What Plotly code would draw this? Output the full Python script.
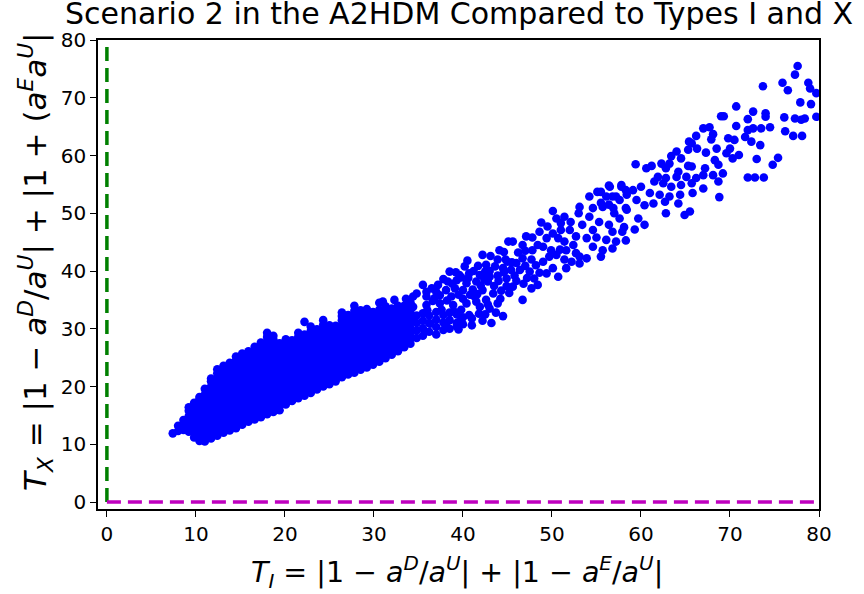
import plotly.graph_objects as go

# Dense core of the scatter: one x per column, the y values observed in that column
core_cols = [7.4, 8.0, 8.6, 9.2, 9.8, 10.4, 11.0, 11.7, 12.4, 13.1, 13.8, 14.5, 15.2,
             15.9, 16.6, 17.3, 18.0, 18.7, 19.4, 20.1, 20.8, 21.5, 22.2, 22.9, 23.6,
             24.3, 25.0, 25.7, 26.4, 27.1, 27.8, 28.5, 29.2, 29.9, 30.6, 31.3, 32.0,
             32.7, 33.4, 34.1]
core_vals = [
    [11.9],
    [12.3, 13.2],
    [12.5, 13.4, 14.2],
    [12.2, 13.1, 14.0, 14.9, 15.8, 16.4],
    [11.2, 12.1, 13.0, 13.9, 14.8, 15.7, 16.6, 17.2],
    [10.6, 11.5, 12.4, 13.3, 14.2, 15.1, 16.0, 16.9, 17.8, 18.2],
    [10.5, 11.4, 12.3, 13.2, 14.1, 15.0, 15.9, 16.8, 17.7, 18.6, 19.6],
    [11.0, 11.9, 12.8, 13.7, 14.6, 15.5, 16.4, 17.3, 18.2, 19.1, 20.0, 20.9, 21.4],
    [11.5, 12.4, 13.3, 14.2, 15.1, 16.0, 16.9, 17.8, 18.7, 19.6, 20.5, 21.4, 22.3, 23.0],
    [12.0, 12.9, 13.8, 14.7, 15.6, 16.5, 17.4, 18.3, 19.2, 20.1, 21.0, 21.9, 22.8, 23.6],
    [12.4, 13.3, 14.2, 15.1, 16.0, 16.9, 17.8, 18.7, 19.6, 20.5, 21.4, 22.3, 23.2, 24.1],
    [12.8, 13.7, 14.6, 15.5, 16.4, 17.3, 18.2, 19.1, 20.0, 20.9, 21.8, 22.7, 23.6, 24.5, 25.2],
    [13.4, 14.3, 15.2, 16.1, 17.0, 17.9, 18.8, 19.7, 20.6, 21.5, 22.4, 23.3, 24.2, 25.1, 25.7],
    [13.9, 14.8, 15.7, 16.6, 17.5, 18.4, 19.3, 20.2, 21.1, 22.0, 22.9, 23.8, 24.7, 25.6, 26.1],
    [14.3, 15.2, 16.1, 17.0, 17.9, 18.8, 19.7, 20.6, 21.5, 22.4, 23.3, 24.2, 25.1, 26.0, 26.9],
    [14.7, 15.6, 16.5, 17.4, 18.3, 19.2, 20.1, 21.0, 21.9, 22.8, 23.7, 24.6, 25.5, 26.4, 27.6],
    [15.2, 16.1, 17.0, 17.9, 18.8, 19.7, 20.6, 21.5, 22.4, 23.3, 24.2, 25.1, 26.0, 26.9, 27.8, 28.6, 29.3],
    [15.6, 16.5, 17.4, 18.3, 19.2, 20.1, 21.0, 21.9, 22.8, 23.7, 24.6, 25.5, 26.4, 27.3, 28.2, 28.8],
    [15.9, 16.8, 17.7, 18.6, 19.5, 20.4, 21.3, 22.2, 23.1, 24.0, 24.9, 25.8, 26.7, 27.5],
    [16.9, 17.8, 18.7, 19.6, 20.5, 21.4, 22.3, 23.2, 24.1, 25.0, 25.9, 26.8, 27.6, 28.2],
    [17.5, 18.4, 19.3, 20.2, 21.1, 22.0, 22.9, 23.8, 24.7, 25.6, 26.5, 27.4, 28.0],
    [18.0, 18.9, 19.8, 20.7, 21.6, 22.5, 23.4, 24.3, 25.2, 26.1, 27.0, 27.9, 28.6, 29.3],
    [18.4, 19.3, 20.2, 21.1, 22.0, 22.9, 23.8, 24.7, 25.6, 26.5, 27.4, 28.3, 29.0, 31.2],
    [18.9, 19.8, 20.7, 21.6, 22.5, 23.4, 24.3, 25.2, 26.1, 27.0, 27.9, 28.8, 29.6, 30.4],
    [19.5, 20.4, 21.3, 22.2, 23.1, 24.0, 24.9, 25.8, 26.7, 27.6, 28.5, 29.4, 29.9],
    [20.0, 20.9, 21.8, 22.7, 23.6, 24.5, 25.4, 26.3, 27.2, 28.1, 29.0, 29.9, 30.7, 31.5],
    [20.4, 21.3, 22.2, 23.1, 24.0, 24.9, 25.8, 26.7, 27.6, 28.5, 29.4, 30.2, 30.6],
    [20.9, 21.8, 22.7, 23.6, 24.5, 25.4, 26.3, 27.2, 28.1, 29.0, 29.9, 30.5],
    [21.6, 22.5, 23.4, 24.3, 25.2, 26.1, 27.0, 27.9, 28.8, 29.7, 30.6, 31.5, 32.2, 32.8],
    [22.1, 23.0, 23.9, 24.8, 25.7, 26.6, 27.5, 28.4, 29.3, 30.2, 31.1, 31.9, 32.4],
    [22.4, 23.3, 24.2, 25.1, 26.0, 26.9, 27.8, 28.7, 29.6, 30.5, 31.4, 32.3, 33.1, 34.0],
    [22.9, 23.8, 24.7, 25.6, 26.5, 27.4, 28.3, 29.2, 30.1, 31.0, 31.9, 32.6, 33.2],
    [23.3, 24.2, 25.1, 26.0, 26.9, 27.8, 28.7, 29.6, 30.5, 31.4, 32.3, 33.0, 33.4],
    [23.8, 24.7, 25.6, 26.5, 27.4, 28.3, 29.2, 30.1, 31.0, 31.9, 32.6, 32.9],
    [24.3, 25.2, 26.1, 27.0, 27.9, 28.8, 29.7, 30.6, 31.5, 32.4, 33.3, 34.5],
    [24.9, 25.8, 26.7, 27.6, 28.5, 29.4, 30.3, 31.2, 32.1, 33.0, 33.9],
    [25.5, 26.4, 27.3, 28.2, 29.1, 30.0, 30.9, 31.8, 32.7, 33.5],
    [26.1, 27.0, 27.9, 28.8, 29.7, 30.6, 31.5, 32.4, 33.2, 34.0],
    [26.8, 27.7, 28.6, 29.5, 30.4, 31.3, 32.2, 33.1, 34.0],
    [27.4, 28.3, 29.2, 30.1, 31.0, 31.9, 32.8, 33.6, 34.6],
]

# Middle of the band (T_I roughly 34 to 60)
mid_points = [
    (34.8, 28.4), (34.8, 29.7), (34.8, 31.0), (34.8, 32.3),
    (35.5, 28.8), (35.5, 30.1), (35.5, 31.4), (35.5, 32.7), (36.0, 33.2),
    (36.2, 29.5), (36.2, 31.0), (36.2, 32.3), (36.6, 34.8), (37.0, 29.0), (37.0, 30.3),
    (37.0, 31.6), (37.0, 32.9), (37.6, 33.3), (37.8, 29.8), (37.8, 31.1), (37.8, 32.4),
    (38.5, 30.0), (38.5, 31.5), (38.5, 32.8), (39.0, 33.0), (39.3, 31.0), (39.3, 32.5),
    (39.5, 29.9), (39.8, 33.3), (39.8, 38.9), (40.0, 30.8), (40.0, 32.0), (40.8, 35.9),
    (41.0, 30.6), (41.0, 31.8), (41.2, 40.0), (41.5, 34.7), (41.8, 32.6), (42.0, 37.5),
    (42.2, 31.4), (42.5, 32.5), (42.5, 39.9), (42.8, 34.2), (43.2, 31.0), (43.5, 37.4),
    (44.0, 38.3), (44.2, 35.2), (44.5, 32.2), (44.6, 39.8), (45.2, 36.2), (45.5, 41.5),
    (46.0, 38.3), (46.8, 37.8), (47.2, 38.8), (48.0, 38.7),
    (36.8, 35.3), (38.2, 34.9), (39.5, 35.9), (40.6, 38.8), (41.6, 36.0), (42.4, 38.6),
    (43.0, 40.0), (44.3, 36.6), (45.0, 41.6), (46.2, 43.2), (47.0, 40.9), (48.2, 41.0),
    (48.4, 44.5), (47.0, 43.5), (38.8, 37.8), (36.5, 37.0), (37.8, 38.6), (39.2, 39.8),
    (40.5, 41.8),
    (56.4, 54.8), (57.8, 54.9), (58.3, 54.0), (55.1, 53.7), (54.2, 52.9), (56.8, 52.9), (57.6, 52.3),
    (55.5, 51.8), (56.4, 51.5), (58.3, 50.9), (53.1, 51.1), (54.6, 50.9), (57.0, 50.0), (57.6, 49.1),
    (50.1, 50.4), (53.0, 50.0), (54.2, 49.4), (55.3, 48.5), (56.4, 48.0), (58.1, 47.6), (48.8, 48.4),
    (50.5, 49.1), (51.4, 49.4), (51.0, 48.3), (52.1, 48.5), (53.4, 48.0), (54.6, 47.1), (56.8, 46.8),
    (57.9, 46.8), (49.5, 47.7), (50.1, 46.5), (51.0, 47.1), (52.0, 47.1), (52.7, 46.0), (53.9, 45.7),
    (55.0, 45.8), (56.1, 45.4), (57.2, 45.1), (58.3, 45.3), (47.1, 46.0), (47.8, 45.8), (48.6, 46.8),
    (49.4, 45.7), (50.7, 45.7), (51.4, 45.1), (52.4, 44.5), (54.6, 44.2), (55.7, 43.6), (56.8, 43.9),
    (45.1, 45.1), (45.6, 45.1), (46.7, 44.5), (47.8, 43.6), (49.0, 44.2), (49.9, 43.6), (50.9, 43.7),
    (51.6, 43.6), (52.7, 43.1), (53.1, 42.5), (53.9, 42.2), (55.5, 42.5), (44.1, 43.6), (44.6, 43.3),
    (42.2, 42.8), (43.1, 42.6), (43.9, 42.0), (44.8, 42.0), (46.0, 41.4), (46.7, 42.2), (47.7, 42.0),
    (49.0, 41.6), (49.7, 42.5), (50.5, 42.8), (51.4, 42.0), (52.2, 41.6), (53.1, 41.3), (50.1, 40.5),
    (51.6, 40.5), (50.7, 39.0), (40.2, 40.8), (41.7, 40.9), (42.6, 41.1), (43.6, 40.8), (44.5, 40.5),
    (45.4, 40.2), (46.4, 40.2), (47.5, 39.9), (48.6, 39.7), (49.4, 39.6), (38.5, 39.9), (39.6, 39.3),
    (40.7, 39.6), (41.9, 39.3), (43.0, 39.0), (43.9, 39.2), (44.9, 38.7), (45.8, 39.2), (35.5, 37.6),
    (37.2, 37.6), (38.3, 38.2), (39.3, 38.4), (40.4, 37.9), (41.5, 38.2), (42.8, 38.2), (44.9, 37.4),
    (45.6, 37.3), (47.7, 37.0), (48.4, 37.6), (46.7, 35.0), (34.8, 36.1), (35.9, 36.4), (37.0, 36.4),
    (38.1, 36.7), (39.1, 37.0), (40.0, 36.7), (41.1, 36.8), (42.2, 36.7), (43.4, 36.1), (43.9, 34.4),
    (43.7, 32.8), (31.0, 34.7), (32.3, 35.0), (33.6, 35.2), (34.4, 35.6), (35.9, 35.6), (37.4, 35.8),
    (38.7, 35.6), (40.0, 35.2), (41.3, 35.6), (42.6, 35.0), (34.4, 33.8),
    (35.9, 34.1), (37.4, 34.4), (38.9, 34.1), (40.4, 34.4), (41.9, 33.8), (43.0, 33.5), (40.7, 32.4),
    (39.6, 31.2), (38.1, 30.7), (36.3, 30.9), (34.4, 31.5), (39.3, 30.4),
    (59.3, 47.2), (60.4, 48.0),
]

# Upper, sparser end of the band (T_I roughly 55 to 80)
top_points = [
    (77.6, 75.5), (77.3, 74.0), (73.7, 72.0), (75.9, 72.6), (76.5, 71.3), (78.8, 72.6), (79.0, 71.6),
    (79.7, 70.8), (77.9, 69.2), (79.1, 68.9), (70.7, 68.5), (72.6, 67.6), (74.0, 67.3), (74.0, 66.7),
    (76.1, 66.6), (77.3, 66.4), (78.0, 66.2), (78.4, 66.4), (79.7, 66.7), (69.0, 66.8), (69.3, 66.8),
    (72.0, 66.3), (70.7, 65.1), (72.6, 64.7), (73.5, 64.7), (74.5, 64.9), (72.0, 64.4), (76.2, 64.2),
    (77.1, 63.4), (78.1, 63.4), (67.0, 64.7), (67.7, 64.9), (68.1, 63.7), (66.2, 63.4), (69.8, 63.0),
    (70.5, 62.7), (71.7, 63.2), (72.4, 62.4), (73.4, 61.8), (67.9, 62.8), (65.4, 62.4), (65.7, 62.1),
    (65.3, 61.0), (66.3, 61.2), (67.3, 60.5), (68.5, 61.2), (70.0, 61.2), (69.6, 60.4), (70.3, 59.5),
    (71.0, 60.1), (73.0, 59.4), (75.4, 59.6), (74.8, 58.4), (72.0, 56.2), (72.8, 56.2), (73.8, 56.2),
    (68.8, 52.8), (64.0, 60.7), (63.4, 59.9), (64.5, 59.5), (65.3, 58.2), (63.2, 58.6), (62.3, 58.6),
    (59.4, 58.5), (60.6, 57.8), (61.2, 58.2), (62.8, 57.8), (64.2, 57.2), (65.7, 58.1), (67.2, 57.8),
    (68.3, 59.2), (68.7, 58.4), (69.2, 56.9), (68.1, 56.6), (68.7, 55.5), (67.0, 56.6), (66.2, 56.1),
    (65.1, 56.3), (64.0, 56.3), (62.8, 56.1), (61.9, 56.3), (61.5, 55.5), (62.5, 55.2), (63.4, 54.6),
    (64.5, 54.9), (65.7, 55.2), (67.0, 54.3), (65.8, 53.5), (64.4, 53.2), (63.2, 52.9), (62.1, 53.2),
    (61.0, 53.5), (60.0, 54.6), (59.1, 54.0), (57.8, 54.6), (56.5, 54.6), (55.5, 53.7), (56.1, 52.9),
    (57.2, 52.9), (58.4, 53.2), (59.5, 52.3), (60.4, 51.4), (61.4, 51.7), (62.7, 52.0), (64.2, 51.7),
    (65.5, 50.3), (64.9, 49.7), (62.8, 50.0), (59.7, 49.1), (56.9, 50.9), (58.4, 50.6), (55.7, 51.1),
]

# Reference lines at T_X = 0 and T_I = 0
ref_span = [0, 80]
ref_zero = [0, 0]

tick_vals = [0, 10, 20, 30, 40, 50, 60, 70, 80]

pts_x, pts_y = [], []
for cx, ys in zip(core_cols, core_vals):
    for yv in ys:
        pts_x.append(cx)
        pts_y.append(yv)
for px_, py_ in mid_points + top_points:
    pts_x.append(px_)
    pts_y.append(py_)

FONT = "DejaVu Sans"

fig = go.Figure()
fig.add_trace(go.Scatter(
    x=pts_x, y=pts_y, mode="markers",
    marker=dict(color="#0000ff", size=8.6, line=dict(width=0)),
    showlegend=False, hoverinfo="skip",
))
fig.add_trace(go.Scatter(
    x=ref_zero, y=ref_span, mode="lines",
    line=dict(color="#008000", width=3.5, dash="14px,7px"),
    showlegend=False, hoverinfo="skip",
))
fig.add_trace(go.Scatter(
    x=ref_span, y=ref_zero, mode="lines",
    line=dict(color="#bf00bf", width=3.5, dash="14px,7px"),
    showlegend=False, hoverinfo="skip",
))

axis_common = dict(
    showgrid=False, zeroline=False,
    showline=True, linecolor="black", linewidth=1.5, mirror=True,
    ticks="outside", ticklen=6, tickwidth=1.3, tickcolor="black",
    tickvals=tick_vals, tickfont=dict(family=FONT, size=20, color="black"),
    layer="above traces",
)

fig.update_xaxes(range=[-1.0, 80], **axis_common)
fig.update_yaxes(range=[-1.2, 80], **axis_common)

xlabel = ("<i>T</i><sub><i>I</i></sub> = |1 − <i>a</i><sup><i>D</i></sup>/<i>a</i><sup><i>U</i></sup>| + "
          "|1 − <i>a</i><sup><i>E</i></sup>/<i>a</i><sup><i>U</i></sup>|")
ylabel = ("<i>T</i><sub><i>X</i></sub> = |1 − <i>a</i><sup><i>D</i></sup>/<i>a</i><sup><i>U</i></sup>| + "
          "|1 + (<i>a</i><sup><i>E</i></sup><i>a</i><sup><i>U</i></sup>|")

fig.update_layout(
    width=864, height=594,
    margin=dict(l=98, r=45, t=40, b=85),
    paper_bgcolor="white", plot_bgcolor="white",
    font=dict(family=FONT, color="black"),
    title=dict(
        text="Scenario 2 in the A2HDM Compared to Types I and X",
        font=dict(family=FONT, size=30, color="black"),
        x=459 / 864, xref="container", xanchor="center",
        y=0.995, yref="container", yanchor="top",
    ),
    annotations=[
        dict(text=xlabel, xref="paper", yref="paper", x=0.4986, y=-0.134,
             xanchor="center", yanchor="middle", showarrow=False,
             font=dict(family=FONT, size=28.5, color="black")),
        dict(text=ylabel, xref="paper", yref="paper", x=-0.086, y=0.5267,
             xanchor="center", yanchor="middle", showarrow=False, textangle=-90,
             font=dict(family=FONT, size=31, color="black")),
    ],
)

fig.write_html("out.html")
